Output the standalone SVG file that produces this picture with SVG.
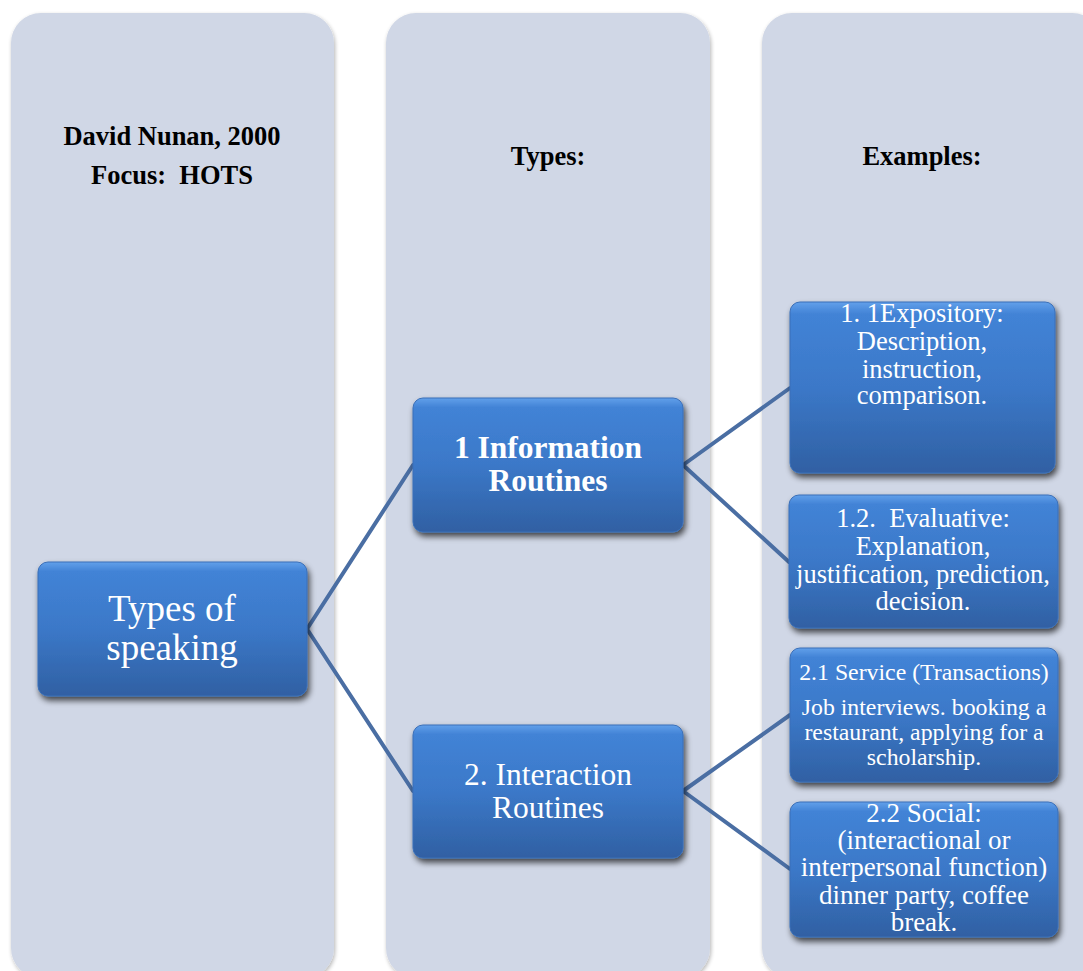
<svg xmlns="http://www.w3.org/2000/svg" width="1083" height="971" viewBox="0 0 1083 971">
  <defs>
    <linearGradient id="nodeGrad" x1="0" y1="0" x2="0" y2="1">
      <stop offset="0" stop-color="#62a0ea"/>
      <stop offset="0.07" stop-color="#4283d6"/>
      <stop offset="0.5" stop-color="#3b78c8"/>
      <stop offset="1" stop-color="#3060a3"/>
    </linearGradient>
    <filter id="nodeShadow" x="-10%" y="-10%" width="125%" height="130%">
      <feGaussianBlur in="SourceAlpha" stdDeviation="3"/>
      <feOffset dx="2" dy="4" result="b"/>
      <feComponentTransfer><feFuncA type="linear" slope="0.7"/></feComponentTransfer>
      <feMerge><feMergeNode/><feMergeNode in="SourceGraphic"/></feMerge>
    </filter>
    <filter id="colShadow" x="-5%" y="-5%" width="110%" height="110%">
      <feGaussianBlur in="SourceAlpha" stdDeviation="2"/>
      <feOffset dx="1" dy="2" result="b"/>
      <feComponentTransfer><feFuncA type="linear" slope="0.3"/></feComponentTransfer>
      <feMerge><feMergeNode/><feMergeNode in="SourceGraphic"/></feMerge>
    </filter>
  </defs>
  <style>
    .col { fill: #d0d7e6; filter: url(#colShadow); }
    .node { fill: url(#nodeGrad); stroke: #3a6fb8; stroke-width: 1; filter: url(#nodeShadow); }
    .hdr { font-family: "Liberation Serif", "Times New Roman", serif; font-weight: bold; font-size: 26.5px; fill: #000; text-anchor: middle; }
    .t { font-family: "Liberation Serif", "Times New Roman", serif; fill: #fff; text-anchor: middle; }
    .conn { stroke: #4a6ea3; stroke-width: 4; fill: none; stroke-linecap: round; }
  </style>
  <rect width="1083" height="971" fill="#fff"/>

  <g id="columns">
    <rect class="col" x="11" y="13" width="323" height="965" rx="30" ry="30"/>
    <rect class="col" x="386" y="13" width="324" height="965" rx="30" ry="30"/>
    <rect class="col" x="762" y="13" width="340" height="965" rx="30" ry="30"/>
  </g>

  <g id="headers">
    <text class="hdr" x="172" y="145">David Nunan, 2000</text>
    <text class="hdr" x="172" y="184" xml:space="preserve">Focus:  HOTS</text>
    <text class="hdr" x="548" y="165">Types:</text>
    <text class="hdr" x="922" y="165">Examples:</text>
  </g>

  <g id="connectors">
    <line class="conn" x1="307" y1="629" x2="413" y2="465"/>
    <line class="conn" x1="307" y1="629" x2="413" y2="791"/>
    <line class="conn" x1="683" y1="465" x2="790" y2="388"/>
    <line class="conn" x1="683" y1="465" x2="789" y2="562"/>
    <line class="conn" x1="683" y1="791" x2="790" y2="715"/>
    <line class="conn" x1="683" y1="791" x2="790" y2="869"/>
  </g>

  <g id="node-types-of-speaking">
    <rect class="node" x="38" y="562" width="269" height="134" rx="10" ry="10"/>
    <text class="t" x="172" y="621" font-size="37">Types of</text>
    <text class="t" x="172" y="660" font-size="37">speaking</text>
  </g>

  <g id="node-information-routines">
    <rect class="node" x="413" y="398" width="270" height="134" rx="10" ry="10"/>
    <text class="t" x="548" y="458" font-size="31.5" font-weight="bold">1 Information</text>
    <text class="t" x="548" y="491" font-size="31.5" font-weight="bold">Routines</text>
  </g>

  <g id="node-interaction-routines">
    <rect class="node" x="413" y="725" width="270" height="133" rx="10" ry="10"/>
    <text class="t" x="548" y="785" font-size="31.5">2. Interaction</text>
    <text class="t" x="548" y="818" font-size="31.5">Routines</text>
  </g>

  <g id="node-expository">
    <rect class="node" x="790" y="302" width="265" height="171" rx="10" ry="10"/>
    <text class="t" x="922" y="322" font-size="26.5">1. 1Expository:</text>
    <text class="t" x="922" y="350" font-size="26.5">Description,</text>
    <text class="t" x="922" y="378" font-size="26.5">instruction,</text>
    <text class="t" x="922" y="404" font-size="26.5">comparison.</text>
  </g>

  <g id="node-evaluative">
    <rect class="node" x="789" y="495" width="269" height="133" rx="10" ry="10"/>
    <text class="t" x="923" y="527" font-size="26.5" xml:space="preserve">1.2.  Evaluative:</text>
    <text class="t" x="923" y="555" font-size="26.5">Explanation,</text>
    <text class="t" x="923" y="583" font-size="26.5">justification, prediction,</text>
    <text class="t" x="923" y="610" font-size="26.5">decision.</text>
  </g>

  <g id="node-service">
    <rect class="node" x="790" y="648" width="268" height="134" rx="10" ry="10"/>
    <text class="t" x="924" y="680" font-size="23.8">2.1 Service (Transactions)</text>
    <text class="t" x="924" y="715" font-size="23.8">Job interviews. booking a</text>
    <text class="t" x="924" y="740" font-size="23.8">restaurant, applying for a</text>
    <text class="t" x="924" y="765" font-size="23.8">scholarship.</text>
  </g>

  <g id="node-social">
    <rect class="node" x="790" y="802" width="268" height="135" rx="10" ry="10"/>
    <text class="t" x="924" y="822" font-size="27">2.2 Social:</text>
    <text class="t" x="924" y="849" font-size="27">(interactional or</text>
    <text class="t" x="924" y="876" font-size="27">interpersonal function)</text>
    <text class="t" x="924" y="904" font-size="27">dinner party, coffee</text>
    <text class="t" x="924" y="931" font-size="27">break.</text>
  </g>
</svg>
